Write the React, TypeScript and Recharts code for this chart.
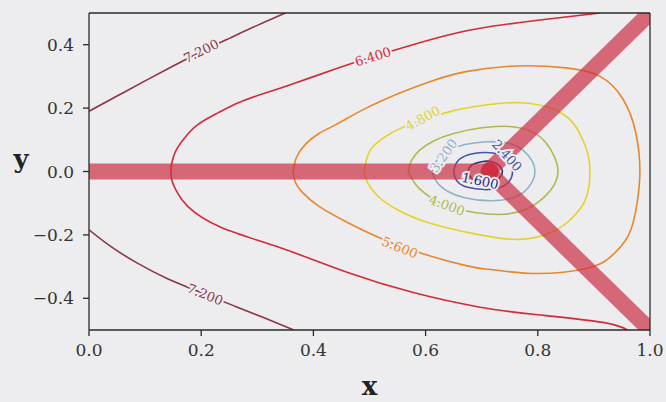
import React from 'react'
import { ComposedChart, Line, Scatter, XAxis, YAxis, Label } from 'recharts'

type Pt = [number, number]

const BG = '#ededef'
const FONT = '"DejaVu Serif", serif'

// axis ticks
const xTicks = [0, 0.2, 0.4, 0.6, 0.8, 1.0]
const yTicks = [-0.4, -0.2, 0, 0.2, 0.4]

// contour lines (x, y)
const c720Top: Pt[] = [[0, 0.19], [0.05, 0.238], [0.1, 0.286], [0.15, 0.333], [0.2, 0.378], [0.25, 0.42], [0.3, 0.461], [0.35, 0.5]]
const c720Bottom: Pt[] = [[0, -0.184], [0.04, -0.238], [0.087, -0.29], [0.14, -0.338], [0.207, -0.387], [0.26, -0.425], [0.31, -0.46], [0.365, -0.5]]
const c640: Pt[] = [
  [0.911, 0.5], [0.8, 0.477], [0.697, 0.452], [0.613, 0.418], [0.506, 0.362], [0.435, 0.321], [0.355, 0.271],
  [0.31, 0.245], [0.266, 0.217], [0.23, 0.185], [0.194, 0.148], [0.17, 0.105], [0.155, 0.066], [0.148, 0.03],
  [0.146, 0], [0.148, -0.03], [0.156, -0.062], [0.176, -0.11], [0.235, -0.176], [0.34, -0.24], [0.46, -0.318],
  [0.578, -0.382], [0.697, -0.428], [0.8, -0.452], [0.916, -0.476], [0.96, -0.5],
]
const c560: Pt[] = [
  [0.364, 0], [0.37, 0.045], [0.387, 0.088], [0.41, 0.12], [0.44, 0.148], [0.494, 0.2], [0.554, 0.248],
  [0.61, 0.285], [0.672, 0.315], [0.761, 0.333], [0.85, 0.327], [0.911, 0.3], [0.952, 0.228], [0.975, 0.12],
  [0.982, 0], [0.977, -0.1], [0.962, -0.2], [0.929, -0.27], [0.888, -0.305], [0.8, -0.322], [0.72, -0.31],
  [0.672, -0.297], [0.554, -0.235], [0.46, -0.16], [0.41, -0.11], [0.38, -0.065], [0.367, -0.03], [0.364, 0],
]
const c480: Pt[] = [
  [0.49, 0], [0.495, 0.04], [0.506, 0.078], [0.53, 0.112], [0.56, 0.14], [0.608, 0.17], [0.65, 0.192],
  [0.7, 0.208], [0.768, 0.217], [0.827, 0.197], [0.862, 0.155], [0.88, 0.1], [0.89, 0.05], [0.893, 0],
  [0.891, -0.05], [0.882, -0.1], [0.862, -0.145], [0.827, -0.19], [0.768, -0.214], [0.697, -0.2],
  [0.608, -0.163], [0.549, -0.12], [0.515, -0.078], [0.497, -0.037], [0.49, 0],
]
const c400: Pt[] = [
  [0.569, 0], [0.575, 0.035], [0.59, 0.068], [0.615, 0.097], [0.65, 0.12], [0.7, 0.138], [0.75, 0.142],
  [0.79, 0.125], [0.815, 0.09], [0.83, 0.045], [0.836, 0], [0.83, -0.04], [0.812, -0.08], [0.78, -0.118],
  [0.738, -0.135], [0.69, -0.13], [0.64, -0.11], [0.605, -0.077], [0.582, -0.04], [0.569, 0],
]
const c320: Pt[] = [
  [0.612, 0], [0.62, 0.035], [0.64, 0.065], [0.67, 0.085], [0.71, 0.094], [0.75, 0.088], [0.775, 0.065],
  [0.79, 0.033], [0.795, 0], [0.79, -0.033], [0.775, -0.065], [0.75, -0.086], [0.71, -0.092], [0.67, -0.083],
  [0.64, -0.063], [0.62, -0.033], [0.612, 0],
]
const c240: Pt[] = [
  [0.65, 0], [0.656, 0.03], [0.675, 0.052], [0.705, 0.06], [0.73, 0.055], [0.748, 0.035], [0.755, 0],
  [0.748, -0.033], [0.73, -0.052], [0.705, -0.057], [0.675, -0.05], [0.656, -0.03], [0.65, 0],
]
const c160: Pt[] = [
  [0.675, 0], [0.682, 0.02], [0.7, 0.031], [0.718, 0.031], [0.732, 0.018], [0.737, 0],
  [0.732, -0.02], [0.718, -0.034], [0.7, -0.035], [0.682, -0.022], [0.675, 0],
]

// thick bands meeting at the minimum
const bandLeft: Pt[] = [[0, 0], [0.711, 0]]
const bandUp: Pt[] = [[0.711, 0], [1, 0.5]]
const bandDown: Pt[] = [[0.711, 0], [1, -0.5]]
const centre: Pt[] = [[0.714, 0]]

// inline contour labels
const labelPts: Pt[] = [[0.2, 0.38], [0.207, -0.388], [0.506, 0.362], [0.554, -0.24], [0.595, 0.168], [0.638, -0.107], [0.632, 0.05], [0.745, 0.05], [0.697, -0.03]]
const labelText = ['7.200', '7.200', '6.400', '5.600', '4.800', '4.000', '3.200', '2.400', '1.600']
const labelAngle = [-26, 22, -17, 22, -28, 20, -55, 48, 12]

const levelColor: Record<string, string> = {
  '7.200': '#8e3444',
  '6.400': '#d42a36',
  '5.600': '#e8862c',
  '4.800': '#e4d22c',
  '4.000': '#b2b84c',
  '3.200': '#8fb2c9',
  '2.400': '#4654a8',
  '1.600': '#2a2a80',
}

const contours: { level: string; pts: Pt[] }[] = [
  { level: '7.200', pts: c720Top },
  { level: '7.200', pts: c720Bottom },
  { level: '6.400', pts: c640 },
  { level: '5.600', pts: c560 },
  { level: '4.800', pts: c480 },
  { level: '4.000', pts: c400 },
  { level: '3.200', pts: c320 },
  { level: '2.400', pts: c240 },
  { level: '1.600', pts: c160 },
]

const toXY = (p: Pt[]) => p.map(([x, y]) => ({ x, y }))
const labelData = labelPts.map(([x, y], i) => ({ x, y, text: labelText[i], angle: labelAngle[i] }))

const fmt = (v: number) => (v < 0 ? '\u2212' + Math.abs(v).toFixed(1) : v.toFixed(1))

const ContourLabel = (props: any) => {
  const { cx, cy, payload } = props
  return (
    <text
      x={cx}
      y={cy}
      transform={`rotate(${payload.angle} ${cx} ${cy})`}
      textAnchor="middle"
      dominantBaseline="central"
      fontFamily={FONT}
      fontSize={13}
      fill={levelColor[payload.text]}
      stroke={BG}
      strokeWidth={4}
      paintOrder="stroke"
    >
      {payload.text}
    </text>
  )
}

const CentreDot = (props: any) => <circle cx={props.cx} cy={props.cy} r={9} fill="#cf2c3e" fillOpacity={0.9} />

const tickStyle = { fontFamily: FONT, fontSize: 17, fill: '#333' }

export default function App() {
  return (
    <div style={{ position: 'absolute', left: 0, top: 0, width: 666, height: 402, background: BG }}>
      <div style={{ position: 'absolute', left: 8, top: 8 }}>
        <ComposedChart width={658} height={394} margin={{ top: 0, right: 0, bottom: 0, left: 0 }}>
          <XAxis
            xAxisId="b"
            type="number"
            dataKey="x"
            domain={[0, 1]}
            ticks={xTicks}
            allowDataOverflow
            height={72}
            tickSize={6}
            tickMargin={8}
            tickFormatter={fmt}
            stroke="#2a2a2a"
            strokeWidth={1.3}
            tick={tickStyle}
          >
            <Label
              content={(p: any) => (
                <text
                  x={p.viewBox.x + p.viewBox.width / 2}
                  y={p.viewBox.y + 65}
                  textAnchor="middle"
                  fontFamily={FONT}
                  fontWeight="bold"
                  fontSize={26}
                  fill="#222"
                >
                  x
                </text>
              )}
            />
          </XAxis>
          <XAxis
            xAxisId="t"
            orientation="top"
            type="number"
            dataKey="x"
            domain={[0, 1]}
            ticks={xTicks}
            allowDataOverflow
            height={5}
            tickSize={5}
            tick={false}
            stroke="#2a2a2a"
            strokeWidth={1.3}
          />
          <YAxis
            yAxisId="l"
            type="number"
            domain={[-0.5, 0.5]}
            ticks={yTicks}
            allowDataOverflow
            width={81}
            tickSize={6}
            tickMargin={9}
            tickFormatter={fmt}
            stroke="#2a2a2a"
            strokeWidth={1.3}
            tick={tickStyle}
          >
            <Label
              content={(p: any) => (
                <text
                  x={13}
                  y={p.viewBox.y + p.viewBox.height / 2 - 4}
                  textAnchor="middle"
                  fontFamily={FONT}
                  fontWeight="bold"
                  fontSize={26}
                  fill="#222"
                >
                  y
                </text>
              )}
            />
          </YAxis>
          <YAxis
            yAxisId="r"
            orientation="right"
            type="number"
            domain={[-0.5, 0.5]}
            ticks={yTicks}
            allowDataOverflow
            width={16}
            tickSize={5}
            tick={false}
            stroke="#2a2a2a"
            strokeWidth={1.3}
          />

          {contours.map((c, i) => (
            <Line
              key={'c' + i}
              xAxisId="b"
              yAxisId="l"
              data={toXY(c.pts)}
              dataKey="y"
              type="natural"
              stroke={levelColor[c.level]}
              strokeWidth={1.6}
              dot={false}
              activeDot={false}
              isAnimationActive={false}
            />
          ))}

          {[bandLeft, bandUp, bandDown].map((b, i) => (
            <Line
              key={'b' + i}
              xAxisId="b"
              yAxisId="l"
              data={toXY(b)}
              dataKey="y"
              type="linear"
              stroke="#cc3348"
              strokeOpacity={0.72}
              strokeWidth={16}
              strokeLinecap="butt"
              dot={false}
              activeDot={false}
              isAnimationActive={false}
            />
          ))}

          <Scatter xAxisId="b" yAxisId="l" data={toXY(centre)} dataKey="y" shape={CentreDot} isAnimationActive={false} />
          <Scatter xAxisId="b" yAxisId="l" data={labelData} dataKey="y" shape={ContourLabel} isAnimationActive={false} />
        </ComposedChart>
      </div>
    </div>
  )
}
